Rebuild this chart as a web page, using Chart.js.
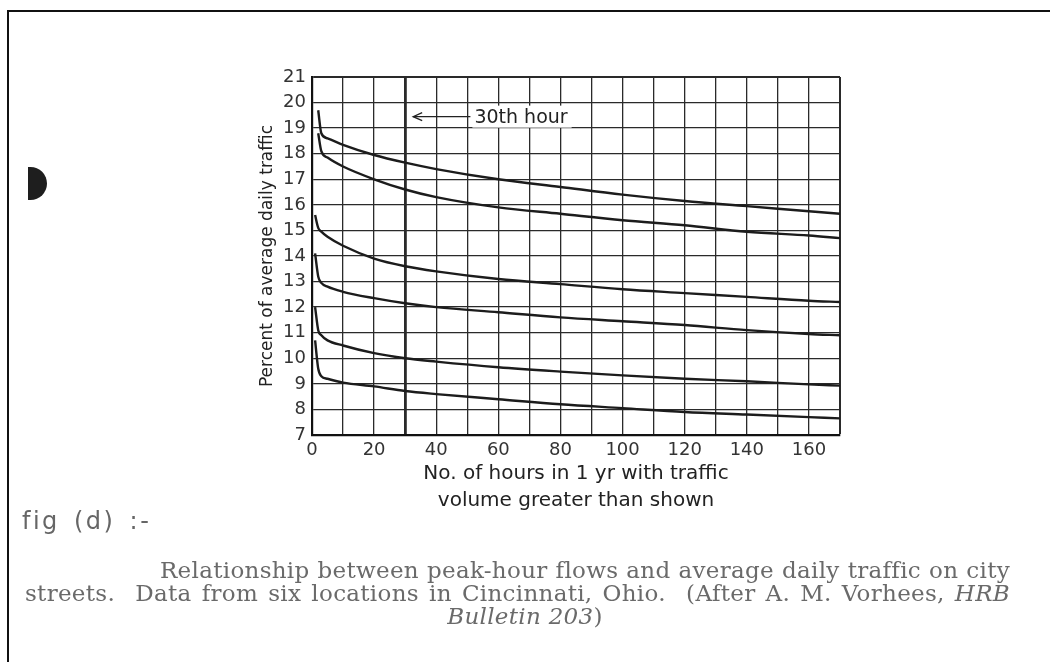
<!DOCTYPE html>
<html>
<head>
<meta charset="utf-8">
<script src="https://cdn.jsdelivr.net/npm/chart.js@4.4.1/dist/chart.umd.min.js"></script>
<style>
  html,body{margin:0;padding:0;background:#fff;}
  body{width:1050px;height:662px;position:relative;overflow:hidden;}
  #frame{position:absolute;left:7px;top:10px;width:1060px;height:670px;border-left:2.5px solid #111;border-top:2.5px solid #111;}
  #punch{position:absolute;left:28px;top:167px;width:19px;height:33px;background:#1e1e1e;border-radius:0 18px 18px 0;}
  #chart{position:absolute;left:0;top:0;}
  .txt{position:absolute;color:#555;white-space:nowrap;}
  #fig{left:22px;top:507px;font:24px "DejaVu Sans",sans-serif;color:#666;letter-spacing:2.5px;word-spacing:4px;}
  .cap{font:23px "DejaVu Serif",serif;color:#6a6a6a;letter-spacing:0.3px;text-align:justify;text-align-last:justify;}
  #cap1{left:160px;top:557px;width:850px;}
  #cap2{left:25px;top:580px;width:985px;}
  #cap3{left:0;top:603px;width:1050px;text-align:center;text-align-last:center;font-style:italic;}
</style>
</head>
<body>
<div id="frame"></div>
<div id="punch"></div>
<canvas id="chart" width="1050" height="662"></canvas>
<div class="txt" id="fig">fig (d) :-</div>
<div class="txt cap" id="cap1">Relationship between peak-hour flows and average daily traffic on city</div>
<div class="txt cap" id="cap2">streets. &nbsp;Data from six locations in Cincinnati, Ohio. &nbsp;(After A. M. Vorhees, <i>HRB</i></div>
<div class="txt cap" id="cap3">Bulletin 203<span style="font-style:normal">)</span></div>
<script>
/* DATA */
const hours=[1,2,3,5,10,20,30,40,60,80,100,120,140,160,170];
const site1=[null,19.7,18.8,18.6,18.35,17.95,17.65,17.4,17.0,16.7,16.4,16.15,15.95,15.75,15.65];
const site2=[null,18.8,18.1,17.85,17.5,17.0,16.6,16.3,15.9,15.65,15.4,15.2,14.95,14.8,14.7];
const site3=[15.6,15.1,14.95,14.75,14.4,13.9,13.6,13.4,13.1,12.9,12.7,12.55,12.4,12.25,12.2];
const site4=[14.1,13.2,12.95,12.8,12.6,12.35,12.15,12.0,11.8,11.6,11.45,11.3,11.1,10.95,10.9];
const site5=[12.0,11.1,10.9,10.7,10.5,10.2,10.0,9.87,9.65,9.48,9.33,9.2,9.1,8.98,8.93];
const site6=[10.7,9.6,9.3,9.2,9.05,8.9,8.72,8.6,8.4,8.2,8.05,7.9,7.8,7.7,7.65];
const xTickLabels=[0,20,40,60,80,100,120,140,160];
const markHour=30;
const markLabel='30th hour';

const sites=[site1,site2,site3,site4,site5,site6];
const toPts=vals=>hours.map((h,i)=>({x:h,y:vals[i]})).filter(p=>p.y!==null);

Chart.defaults.font.family='"DejaVu Sans", sans-serif';
Chart.defaults.color='#333';

/* 30th hour arrow + label */
const markPlugin={
  id:'mark',
  afterDatasetsDraw(chart){
    const {ctx,scales:{x,y}}=chart;
    const yy=y.getPixelForValue(19.45);
    const x0=x.getPixelForValue(markHour)+8;
    const x1=x.getPixelForValue(51);
    ctx.save();
    ctx.font='19px "DejaVu Sans", sans-serif';
    const w=ctx.measureText(markLabel).width;
    ctx.fillStyle='#fff';
    ctx.fillRect(x1+2,yy-11,w+6,22);
    ctx.strokeStyle='#222';ctx.lineWidth=1.3;
    ctx.beginPath();ctx.moveTo(x0,yy);ctx.lineTo(x1,yy);ctx.stroke();
    ctx.beginPath();ctx.moveTo(x0+9,yy-4);ctx.lineTo(x0,yy);ctx.lineTo(x0+9,yy+4);ctx.stroke();
    ctx.fillStyle='#222';ctx.textBaseline='middle';
    ctx.fillText(markLabel,x1+4,yy+1);
    ctx.restore();
  }
};

new Chart(document.getElementById('chart'),{
  type:'line',
  data:{
    datasets:sites.map(s=>({
      data:toPts(s),
      borderColor:'#1c1c1c',
      borderWidth:2.4,
      pointRadius:0,
      cubicInterpolationMode:'monotone',
      fill:false
    }))
  },
  options:{
    responsive:false,
    animation:false,
    layout:{padding:{left:257,top:77,right:210,bottom:148}},
    plugins:{legend:{display:false},tooltip:{enabled:false}},
    scales:{
      x:{
        type:'linear',min:0,max:170,
        afterFit:s=>{s.height=79;},
        ticks:{stepSize:10,autoSkip:false,maxRotation:0,padding:5,
          font:{size:18},color:'#333',
          callback:v=>xTickLabels.includes(v)?String(v):''},
        grid:{drawTicks:false,color:'#2a2a2a',
          lineWidth:c=>c.tick&&c.tick.value===markHour?2.8:(c.tick&&c.tick.value===170?2:1.3)},
        border:{display:true,color:'#111',width:2.2},
        title:{display:true,text:['No. of hours in 1 yr with traffic','volume greater than shown'],
          font:{size:20,lineHeight:'27px'},color:'#222',padding:0}
      },
      y:{
        min:7,max:21,
        afterFit:s=>{s.width=55;},
        ticks:{stepSize:1,padding:6,font:{size:18},color:'#333'},
        grid:{drawTicks:false,color:'#2a2a2a',
          lineWidth:c=>c.tick&&c.tick.value===21?2:1.3},
        border:{display:true,color:'#111',width:2.2},
        title:{display:true,text:'Percent of average daily traffic',
          font:{size:17,lineHeight:1.2},color:'#222',padding:0}
      }
    }
  },
  plugins:[markPlugin]
});
</script>
</body>
</html>
